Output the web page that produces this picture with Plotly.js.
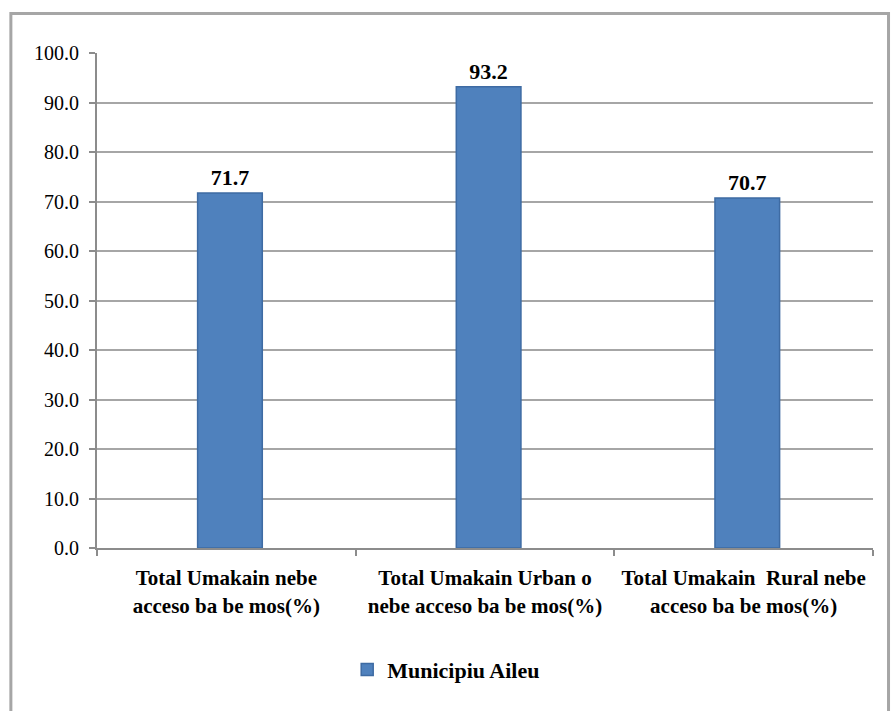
<!DOCTYPE html>
<html>
<head>
<meta charset="utf-8">
<script src="https://cdn.plot.ly/plotly-3.0.1.min.js"></script>
<style>html,body{margin:0;padding:0;background:#fff;}#chart{width:896px;height:711px;}</style>
</head>
<body>
<div id="chart"></div>
<script>
const categories = [
  "Total Umakain nebe<br>acceso ba be mos(%)",
  "Total Umakain Urban o<br>nebe acceso ba be mos(%)",
  "Total Umakain  Rural nebe<br>acceso ba be mos(%)"
];
const values = [71.7, 93.2, 70.7];
const seriesName = "Municipiu Aileu";
const yTicks = [0, 10, 20, 30, 40, 50, 60, 70, 80, 90, 100];

const font = "Liberation Serif";

const trace = {
  type: "bar",
  x: categories,
  y: values,
  name: "<b>" + seriesName + "</b>",
  width: 0.25,
  offset: -0.111,
  marker: {color: "#4F81BD", line: {color: "#3E6BA3", width: 1.5}},
  text: values.map(v => "<b>" + v.toFixed(1) + "</b>"),
  textposition: "outside",
  textfont: {family: font, size: 22, color: "#000"},
  cliponaxis: false
};

const layout = {
  width: 896, height: 711,
  margin: {l: 97, r: 23, t: 53, b: 163},
  paper_bgcolor: "#fff", plot_bgcolor: "#fff",
  font: {family: font, color: "#000"},
  showlegend: true,
  legend: {
    orientation: "h", x: 0.45, xanchor: "center", y: -0.246, yanchor: "middle",
    font: {family: font, size: 22, color: "#000"},
    itemwidth: 30
  },
  xaxis: {
    type: "category",
    tickson: "boundaries",
    ticks: "outside", ticklen: 6, tickcolor: "#8c8c8c", tickwidth: 2,
    showline: true, linecolor: "#8c8c8c", linewidth: 2,
    tickfont: {family: font, size: 21, color: "#000"},
    tickprefix: "<b>", ticksuffix: "</b>",
    ticklabelstandoff: 10,
    showgrid: false
  },
  yaxis: {
    range: [0, 100],
    tickvals: yTicks,
    ticktext: yTicks.map(v => v.toFixed(1)),
    ticks: "outside", ticklen: 6, tickcolor: "#8c8c8c", tickwidth: 2,
    showline: true, linecolor: "#8c8c8c", linewidth: 2,
    showgrid: true, gridcolor: "#a6a6a6", gridwidth: 2,
    zeroline: false,
    ticklabelstandoff: 6,
    tickfont: {family: font, size: 20, color: "#000"}
  },
  shapes: [{
    type: "rect", xref: "paper", yref: "paper",
    x0: -0.111, x1: 1.02, y0: -0.34, y1: 1.08,
    line: {color: "#a6a6a6", width: 3}, fillcolor: "rgba(0,0,0,0)", layer: "below"
  }]
};

Plotly.newPlot("chart", [trace], layout, {displayModeBar: false, staticPlot: true});
</script>
</body>
</html>
